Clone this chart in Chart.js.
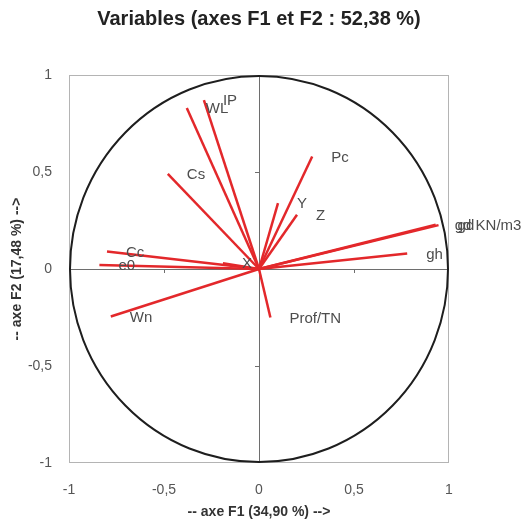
<!DOCTYPE html>
<html>
<head>
<meta charset="utf-8">
<title>Variables (axes F1 et F2 : 52,38 %)</title>
<script src="https://cdn.jsdelivr.net/npm/chart.js@4/dist/chart.umd.min.js"></script>
<style>
  html, body { margin: 0; padding: 0; background: #ffffff; }
  canvas { display: block; }
</style>
</head>
<body>
<canvas id="c" width="524" height="525"></canvas>
<script>
// Correlation circle: each variable is a vector from the origin to (F1, F2).
const variables = ['IP', 'WL', 'Cs', 'Pc', 'Y', 'Z', 'gd', 'gd KN/m3', 'gh', 'Cc', 'e0', 'X', 'Wn', 'Prof/TN'];
const f1Coords = [-0.29, -0.38, -0.48, 0.28, 0.10, 0.20, 0.945, 0.93, 0.78, -0.80, -0.84, -0.19, -0.78, 0.06];
const f2Coords = [0.87, 0.83, 0.49, 0.58, 0.34, 0.28, 0.226, 0.228, 0.08, 0.09, 0.02, 0.03, -0.245, -0.25];

const tickValues = [-1, -0.5, 0, 0.5, 1];
const tickLabels = ['-1', '-0,5', '0', '0,5', '1'];

const chartTitle = 'Variables (axes F1 et F2 : 52,38 %)';
const xTitle = '-- axe F1 (34,90 %) -->';
const yTitle = '-- axe F2 (17,48 %) -->';

const FONT = "'Liberation Sans', Arial, sans-serif";
const VECTOR_RED = '#e3282b';

Chart.defaults.font.family = FONT;

// Frame, centre axes with their half-unit ticks, and the unit circle.
const circlePlugin = {
  id: 'circleFrame',
  beforeDatasetsDraw(chart) {
    const { ctx, chartArea: a, scales: { x, y } } = chart;
    const x0 = x.getPixelForValue(0);
    const y0 = y.getPixelForValue(0);
    ctx.save();
    ctx.strokeStyle = '#b4b4b4';
    ctx.lineWidth = 1;
    ctx.strokeRect(a.left + 0.5, a.top + 0.5, a.right - a.left - 1, a.bottom - a.top - 1);

    ctx.strokeStyle = '#6e6e6e';
    ctx.beginPath();
    ctx.moveTo(a.left, Math.round(y0) + 0.5);
    ctx.lineTo(a.right, Math.round(y0) + 0.5);
    ctx.moveTo(Math.round(x0) + 0.5, a.top);
    ctx.lineTo(Math.round(x0) + 0.5, a.bottom);
    [-0.5, 0.5].forEach(v => {
      const px = Math.round(x.getPixelForValue(v)) + 0.5;
      ctx.moveTo(px, y0);
      ctx.lineTo(px, y0 + 4);
      const py = Math.round(y.getPixelForValue(v)) + 0.5;
      ctx.moveTo(x0, py);
      ctx.lineTo(x0 - 4, py);
    });
    ctx.stroke();

    const rx = x.getPixelForValue(1) - x0;
    const ry = y0 - y.getPixelForValue(1);
    ctx.strokeStyle = '#1e1e1e';
    ctx.lineWidth = 2;
    ctx.beginPath();
    ctx.ellipse(x0, y0, rx - 1, ry - 1, 0, 0, Math.PI * 2);
    ctx.stroke();
    ctx.restore();
  },
  afterDatasetsDraw(chart) {
    const { ctx } = chart;
    ctx.save();
    ctx.font = '15px ' + FONT;
    ctx.fillStyle = '#4d4d4d';
    ctx.textAlign = 'left';
    ctx.textBaseline = 'middle';
    chart.data.datasets.forEach((ds, i) => {
      const tip = chart.getDatasetMeta(i).data[1];
      ctx.fillText(ds.label, tip.x + 19, tip.y + 1);
    });
    ctx.restore();
  }
};

const datasets = variables.map((name, i) => ({
  label: name,
  data: [{ x: 0, y: 0 }, { x: f1Coords[i], y: f2Coords[i] }],
  showLine: true,
  borderColor: VECTOR_RED,
  backgroundColor: VECTOR_RED,
  borderWidth: 2.5,
  pointRadius: 0,
  pointHoverRadius: 0,
  fill: false
}));

function setTicks(scale) {
  scale.ticks = tickValues.map(v => ({ value: v }));
}
function tickText(value) {
  const idx = tickValues.indexOf(value);
  return idx >= 0 ? tickLabels[idx] : '';
}

new Chart(document.getElementById('c'), {
  type: 'scatter',
  data: { datasets },
  plugins: [circlePlugin],
  options: {
    responsive: false,
    animation: false,
    devicePixelRatio: 1,
    events: [],
    layout: { padding: { left: 0, right: 75, top: 0, bottom: 0 } },
    plugins: {
      legend: { display: false },
      tooltip: { enabled: false },
      title: {
        display: true,
        fullSize: false,
        text: chartTitle,
        color: '#222222',
        font: { family: FONT, size: 20, weight: 'bold' },
        padding: { top: 7, bottom: 44 }
      }
    },
    scales: {
      x: {
        type: 'linear',
        min: -1,
        max: 1,
        grid: { display: false, drawTicks: false },
        border: { display: false },
        afterBuildTicks: setTicks,
        afterFit(scale) { scale.height = 62; },
        ticks: {
          padding: 19,
          color: '#555555',
          font: { size: 14 },
          maxRotation: 0,
          callback: tickText
        },
        title: {
          display: true,
          text: xTitle,
          color: '#333333',
          font: { size: 14, weight: 'bold' },
          padding: { top: 0, bottom: 4 }
        }
      },
      y: {
        type: 'linear',
        min: -1,
        max: 1,
        grid: { display: false, drawTicks: false },
        border: { display: false },
        afterBuildTicks: setTicks,
        afterFit(scale) { scale.width = 69; },
        ticks: {
          padding: 17,
          color: '#555555',
          font: { size: 14 },
          callback: tickText
        },
        title: {
          display: true,
          text: yTitle,
          color: '#333333',
          font: { size: 14, weight: 'bold' },
          padding: { top: 9, bottom: 0 }
        }
      }
    }
  }
});
</script>
</body>
</html>
